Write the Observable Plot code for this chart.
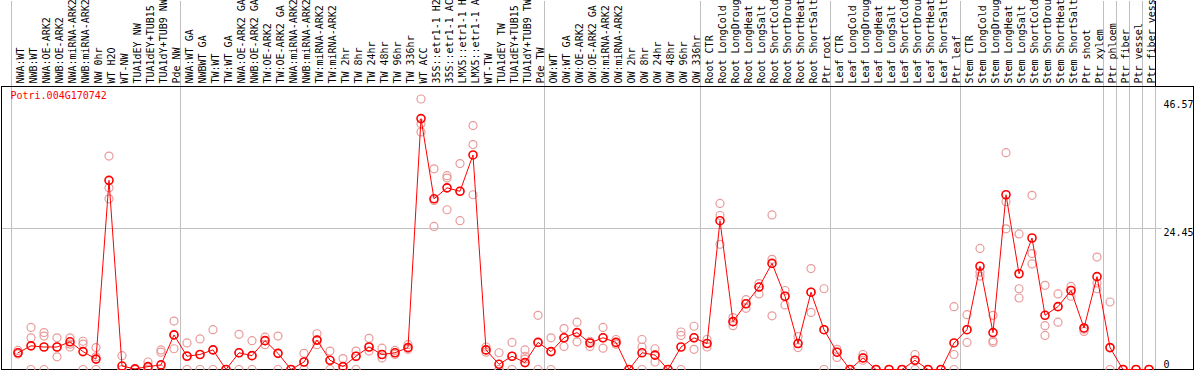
<!DOCTYPE html>
<html><head><meta charset="utf-8">
<script src="https://cdn.jsdelivr.net/npm/d3@7"></script>
<script src="https://cdn.jsdelivr.net/npm/@observablehq/plot@0.6"></script>
<style>
body{margin:0;background:#fff;}
#chart svg{display:block;}
</style></head><body><div id="chart"></div>
<script>
const geneId = "Potri.004G170742";
const labels = [
  "NWA:WT","NWB:WT","NWA:OE-ARK2","NWB:OE-ARK2","NWA:miRNA-ARK2","NWB:miRNA-ARK2","NW 0hr","WT H2O","WT-NW","TUA1dEY NW","TUA1dEY+TUB15","TUA1dY+TUB9 NW","Pde NW",
  "NWA:WT GA","NWBWT GA","TW:WT","TW:WT GA","NWA:OE-ARK2 GA","NWB:OE-ARK2 GA","TW:OE-ARK2","TW:OE-ARK2 GA","NWA:miRNA-ARK2","NWB:miRNA-ARK2","TW:miRNA-ARK2","TW:miRNA-ARK2","TW 2hr","TW 8hr","TW 24hr","TW 48hr","TW 96hr","TW 336hr","WT ACC","35S::etr1-1 H2O","35S::etr1-1 ACC","LMX5::etr1-1 H2O","LMX5::etr1-1 ACC","WT-TW","TUA1dEY TW","TUA1dEY+TUB15 TW","TUA1dY+TUB9 TW","Pde TW",
  "OW:WT","OW:WT GA","OW:OE-ARK2","OW:OE-ARK2 GA","OW:miRNA-ARK2","OW:miRNA-ARK2","OW 2hr","OW 8hr","OW 24hr","OW 48hr","OW 96hr","OW 336hr",
  "Root CTR","Root LongCold","Root LongDrought","Root LongHeat","Root LongSalt","Root ShortCold","Root ShortDrought","Root ShortHeat","Root ShortSalt","Ptr root",
  "Leaf CTR","Leaf LongCold","Leaf LongDrought","Leaf LongHeat","Leaf LongSalt","Leaf ShortCold","Leaf ShortDrought","Leaf ShortHeat","Leaf ShortSalt","Ptr leaf",
  "Stem CTR","Stem LongCold","Stem LongDrought","Stem LongHeat","Stem LongSalt","Stem ShortCold","Stem ShortDrought","Stem ShortHeat","Stem ShortSalt","Ptr shoot","Ptr xylem",
  "Ptr phloem","Ptr fiber","Ptr vessel","Ptr fiber vessel"
];
const means = [
  2.9,4.1,3.9,3.9,4.8,3.1,1.8,32.8,0.6,0.1,0.5,0.8,6.0,
  2.3,2.6,3.4,0,2.9,2.4,5.0,2.8,0,1.3,5.1,1.6,0.5,2.3,3.9,2.6,2.9,3.8,43.5,29.6,31.5,30.9,37.2,3.4,0.9,2.3,1.2,4.7,
  3.1,5.5,6.4,4.6,5.5,4.7,0,2.9,2.5,0,3.9,5.5,
  4.5,25.8,8.3,11.4,14.3,18.4,12.7,4.5,13.4,6.9,
  3.0,0,2.0,0,0,0,1.6,0,0,4.6,
  6.9,17.9,6.4,30.3,16.6,22.8,9.4,10.9,13.7,7.2,16.1,
  3.8,0,0,0
];
const rep1 = [
  3.3,7.3,6.4,5.5,5.5,4.9,3.8,37.0,2.4,0,1.3,3.4,8.4,
  4.6,5.3,6.9,0,6.1,5.0,5.6,5.8,0,2.8,6.2,3.2,1.9,3.2,5.4,3.7,3.3,4.3,46.9,34.8,33.6,35.7,42.3,3.9,2.9,4.7,3.4,9.4,
  5.5,7.1,8.2,4.9,7.3,5.2,0,5.2,3.6,0,6.5,7.5,
  5.2,28.8,9.0,12.1,14.9,26.8,13.7,5.7,17.5,14.0,
  3.0,0,2.6,0,0,0,2.6,0,0,10.9,
  9.5,21.0,9.4,37.6,23.5,30.2,14.6,13.1,14.4,7.2,19.5,
  11.7,0,0,0
];
const rep2 = [
  2.7,5.5,5.8,2.2,3.9,4.4,2.2,31.5,0,0,0,3.0,3.6,
  0,0,0,0,0,0,4.3,0,0,0,4.3,0,0,0,3.2,2.0,2.6,3.8,42.6,29.3,33.2,30.9,39.0,3.4,0,0,2.3,0,
  0,4.0,4.8,4.0,3.7,4.4,0,3.9,1.3,0,5.9,3.5,
  3.9,26.7,7.6,10.6,13.1,19.1,11.2,3.8,9.9,0,
  2.1,0,2.0,0,0,0,0,0,0,2.6,
  4.7,16.9,5.0,29.1,14.0,20.1,7.6,8.2,12.7,6.6,15.0,
  0,0,0,0
];
const rep3 = [
  2.9,0,0,3.9,4.4,0,0,29.6,0,0,0.3,0,6.0,
  2.4,2.6,3.4,0,2.9,2.4,5.0,2.8,0,1.3,5.1,1.6,0,2.3,3.9,2.6,2.9,3.5,41.2,24.8,27.7,25.8,30.3,3.0,0,2.3,1.8,4.7,
  3.1,5.5,6.4,4.6,5.5,4.7,0,0,2.5,0,0,5.5,
  4.5,21.7,8.3,11.4,14.3,9.3,12.7,4.5,13.4,6.9,
  3.5,0,1.6,0,0,0,1.6,0,0,0,
  6.9,16.2,4.7,24.4,12.4,18.3,5.9,10.9,13.7,7.0,14.0,
  3.8,0,0,0
];
const groupBreaks = [0, 13, 41, 53, 63, 73, 84, 85, 86, 87, 88];
const yTicks = [0, 24.45, 46.57];
const yTop = 49.07;

const rows = labels.map((label, i) => ({i, label, mean: means[i]}));
const reps = [rep1, rep2, rep3].flatMap(r => r.map((v, i) => ({i, v})));
const pos = i => i + 0.5;
const n = labels.length;

const plot = Plot.plot({
  width: 1194, height: 370,
  marginTop: 86, marginBottom: 1, marginLeft: 1, marginRight: 1,
  style: {fontFamily: "'DejaVu Sans Mono', monospace", fontSize: "10px", background: "white", color: "black"},
  x: {domain: [0, n], range: [11, 1155]},
  y: {domain: [0, yTop], axis: null},
  marks: [
    Plot.ruleY([24.45], {x1: -0.77, x2: n + 0.5, stroke: "#c0c0c0"}),
    Plot.ruleX(groupBreaks, {stroke: "#c0c0c0"}),
    Plot.axisX(groupBreaks.slice(0, -1), {anchor: "top", tickSize: 86, tickFormat: () => "", stroke: "#c0c0c0", label: null}),
    Plot.axisX([n], {anchor: "top", tickSize: 86, tickFormat: () => "", stroke: "black", label: null}),
    Plot.axisX(rows.map(d => pos(d.i)), {anchor: "top", tickSize: 0, tickPadding: 3, tickRotate: -90, dx: 3, tickFormat: v => labels[Math.floor(v)], label: null, fill: "black"}),
    Plot.frame({stroke: "black"}),
    Plot.dot(reps, {x: d => pos(d.i), y: "v", r: 4, stroke: "#e99a9a", strokeWidth: 1.2}),
    Plot.line(rows, {x: d => pos(d.i), y: "mean", stroke: "red", strokeWidth: 1}),
    Plot.dot(rows, {x: d => pos(d.i), y: "mean", r: 4, stroke: "red", strokeWidth: 1.6}),
    Plot.text([geneId], {frameAnchor: "top-left", dx: 9, dy: 5, lineAnchor: "top", textAnchor: "start", fill: "red"}),
    Plot.text(yTicks.filter(v => v > 0), {x: n, y: d => d, text: d => String(d), textAnchor: "start", lineAnchor: "top", dx: 8, dy: 0, fill: "black"}),
    Plot.text(yTicks.filter(v => v === 0), {x: n, y: d => d, text: d => String(d), textAnchor: "start", lineAnchor: "bottom", dx: 8, dy: -2, fill: "black"})
  ]
});
document.getElementById("chart").appendChild(plot);
</script>
</body></html>
